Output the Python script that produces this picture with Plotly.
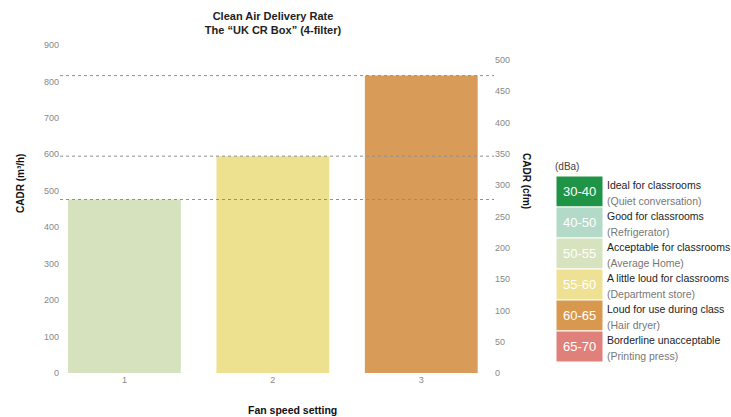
import plotly.graph_objects as go

# ---- data ----
fan_speeds = ["1", "2", "3"]
cadr_m3h = [476, 595, 816]
bar_colors = ["#d5e2bd", "#ede08f", "#d99b58"]

left_ticks = [0, 100, 200, 300, 400, 500, 600, 700, 800, 900]
right_ticks = [0, 50, 100, 150, 200, 250, 300, 350, 400, 450, 500]

legend_ranges = ["30-40", "40-50", "50-55", "55-60", "60-65", "65-70"]
legend_labels = ["Ideal for classrooms", "Good for classrooms", "Acceptable for classrooms",
                 "A little loud for classrooms", "Loud for use during class", "Borderline unacceptable"]
legend_sub = ["(Quiet conversation)", "(Refrigerator)", "(Average Home)",
              "(Department store)", "(Hair dryer)", "(Printing press)"]
legend_colors = ["#1f9447", "#b3d9c8", "#d6e3be", "#efe193", "#d8994f", "#e0807a"]

# ---- layout geometry ----
W, H = 731, 417
L, R, T, B = 60, 494, 45, 373


def px(x):
    return (x - L) / (R - L)


def py(y):
    return (B - y) / (B - T)


FONT = "Liberation Sans, Arial, sans-serif"

fig = go.Figure()
fig.add_trace(go.Bar(x=fan_speeds, y=cadr_m3h, marker_color=bar_colors,
                     marker_line_width=0, width=0.76, showlegend=False, hoverinfo="skip"))
fig.add_trace(go.Scatter(x=fan_speeds, y=[None, None, None], yaxis="y2",
                         showlegend=False, hoverinfo="skip"))

# dotted reference lines at bar tops
for v in cadr_m3h:
    fig.add_shape(type="line", xref="paper", yref="y", x0=0, x1=1, y0=v, y1=v,
                  line=dict(color="#8f8f8f", width=1, dash="dot"), layer="above")

# legend
fig.add_annotation(xref="paper", yref="paper", x=px(567), y=py(166), text="(dBa)",
                   showarrow=False, font=dict(family=FONT, size=10, color="#444"),
                   xanchor="center", yanchor="middle")
row_h = 31
top0 = 176
for i, (rng, lab, sub, col) in enumerate(zip(legend_ranges, legend_labels, legend_sub, legend_colors)):
    y0 = top0 + i * row_h
    y1 = y0 + row_h
    fig.add_shape(type="rect", xref="paper", yref="paper", x0=px(556), x1=px(603),
                  y0=py(y1), y1=py(y0), fillcolor=col, line=dict(width=1, color="white"))
    fig.add_annotation(xref="paper", yref="paper", x=px(579.5), y=py((y0 + y1) / 2), text=rng,
                       showarrow=False, font=dict(family=FONT, size=13, color="white"),
                       xanchor="center", yanchor="middle")
    fig.add_annotation(xref="paper", yref="paper", x=px(605), y=py(y0 + 9), text=lab,
                       showarrow=False, font=dict(family=FONT, size=10.5, color="#222"),
                       xanchor="left", yanchor="middle")
    fig.add_annotation(xref="paper", yref="paper", x=px(605), y=py(y0 + 24.5), text=sub,
                       showarrow=False, font=dict(family=FONT, size=10.5, color="#777"),
                       xanchor="left", yanchor="middle")

# axis titles
fig.add_annotation(xref="paper", yref="paper", x=px(20), y=py(184), text="<b>CADR (m³/h)</b>",
                   textangle=-90, showarrow=False, font=dict(family=FONT, size=10, color="#111"),
                   xanchor="center", yanchor="middle")
fig.add_annotation(xref="paper", yref="paper", x=px(527), y=py(181), text="<b>CADR (cfm)</b>",
                   textangle=90, showarrow=False, font=dict(family=FONT, size=10, color="#111"),
                   xanchor="center", yanchor="middle")
fig.add_annotation(xref="paper", yref="paper", x=px(292), y=py(410), text="<b>Fan speed setting</b>",
                   showarrow=False, font=dict(family=FONT, size=10.5, color="#111"),
                   xanchor="center", yanchor="middle")

fig.update_layout(
    width=W, height=H,
    margin=dict(l=L, r=W - R, t=T, b=H - B, pad=0),
    paper_bgcolor="white", plot_bgcolor="white",
    font=dict(family=FONT, size=9, color="#888"),
    title=dict(text="<b>Clean Air Delivery Rate<br>The “UK CR Box” (4-filter)</b>",
               x=273 / W, xanchor="center", y=1 - 19.5 / H, yanchor="middle",
               font=dict(family=FONT, size=11, color="#222")),
    xaxis=dict(type="category", range=[-0.434, 2.49], showgrid=False, showline=False,
               zeroline=False, ticks="", tickfont=dict(size=9, color="#888")),
    yaxis=dict(range=[0, 900], tickvals=left_ticks, showgrid=False, zeroline=False,
               showline=False, ticks="", tickfont=dict(size=9, color="#888")),
    yaxis2=dict(range=[0, 524], tickvals=right_ticks, overlaying="y", side="right",
                showgrid=False, zeroline=False, showline=False, ticks="",
                tickfont=dict(size=9, color="#888")),
    bargap=0.24,
)

fig.write_html("out.html", config={"displayModeBar": False},
               post_script="document.body.style.margin='0px';")
